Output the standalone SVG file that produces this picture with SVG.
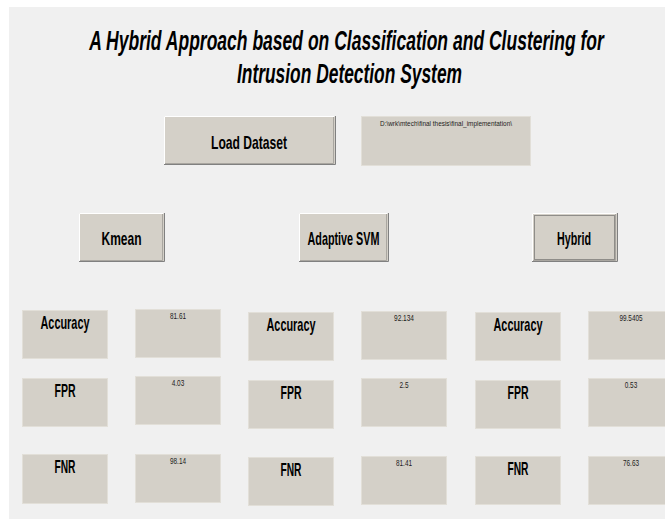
<svg xmlns="http://www.w3.org/2000/svg" width="665" height="519" viewBox="0 0 665 519">
  <style>
    .panel { fill: #f0f0f0; }
    .btn { fill: #d4d0c8; }
    .hi { stroke: #ffffff; stroke-width: 1; fill: none; }
    .lo { stroke: #808080; stroke-width: 1; fill: none; }
    .lo2 { stroke: #a9a6a0; stroke-width: 1; fill: none; }
    .box { fill: #d4d0c8; stroke: #e2dfd8; stroke-width: 1; }
    .focus { fill: none; stroke: #4a4a4a; stroke-width: 1; stroke-dasharray: 1 1; }
    .title { font-family: "Liberation Sans", Arial, sans-serif; font-weight: bold; font-style: italic; font-size: 28px; fill: #000; text-anchor: middle; }
    .lbl { font-family: "Liberation Sans", Arial, sans-serif; font-weight: bold; font-size: 19px; fill: #000; text-anchor: middle; }
    .val { font-family: "Liberation Sans", Arial, sans-serif; font-size: 9px; fill: #222; text-anchor: middle; }
    .path { font-family: "Liberation Sans", Arial, sans-serif; font-size: 8px; fill: #222; text-anchor: middle; }
  </style>

  <!-- window background -->
  <rect x="0" y="0" width="665" height="519" fill="#ffffff"/>
  <rect class="panel" x="9" y="7" width="656" height="512"/>

  <!-- heading, horizontally condensed -->
  <g id="title">
    <text class="title" transform="matrix(0.62 0 0 1 346.5 50)" x="0" y="0" textLength="830" lengthAdjust="spacingAndGlyphs">A Hybrid Approach based on Classification and Clustering for</text>
    <text class="title" transform="matrix(0.62 0 0 1 349.5 83)" x="0" y="0" textLength="363" lengthAdjust="spacingAndGlyphs">Intrusion Detection System</text>
  </g>

  <!-- push buttons -->
  <g id="btn-load">
    <rect class="btn" x="164" y="116" width="171" height="49"/>
    <path class="hi" d="M164.5 164.5V116.5H334.5"/>
    <path class="lo2" d="M165 163.5H333.5V117"/>
    <path class="lo" d="M164 164.5H335.5V116"/>
    <text class="lbl" x="249" y="149" textLength="76" lengthAdjust="spacingAndGlyphs">Load Dataset</text>
  </g>

  <g id="path-field">
    <rect class="box" x="361.5" y="116.5" width="169" height="49"/>
    <text class="path" x="446" y="126" textLength="132" lengthAdjust="spacingAndGlyphs">D:\wrk\mtech\final thesis\final_implementation\</text>
  </g>

  <g id="btn-kmean">
    <rect class="btn" x="79" y="213" width="85" height="49"/>
    <path class="hi" d="M79.5 261.5V213.5H163.5"/>
    <path class="lo2" d="M80 260.5H162.5V214"/>
    <path class="lo" d="M79 261.5H164.5V213"/>
    <text class="lbl" x="121.5" y="245" textLength="40" lengthAdjust="spacingAndGlyphs">Kmean</text>
  </g>

  <g id="btn-svm">
    <rect class="btn" x="299" y="213" width="89" height="49"/>
    <path class="hi" d="M299.5 261.5V213.5H387.5"/>
    <path class="lo2" d="M300 260.5H386.5V214"/>
    <path class="lo" d="M299 261.5H388.5V213"/>
    <text class="lbl" x="343.5" y="245" textLength="72" lengthAdjust="spacingAndGlyphs">Adaptive SVM</text>
  </g>

  <g id="btn-hybrid">
    <rect class="btn" x="532" y="213" width="85" height="49"/>
    <path class="hi" d="M532.5 261.5V213.5H616.5"/>
    <path class="lo2" d="M533 260.5H615.5V214"/>
    <path class="lo" d="M532 261.5H617.5V213"/>
    <rect class="focus" x="534.5" y="215.5" width="80" height="44"/>
    <text class="lbl" x="574" y="245" font-size="18" textLength="34" lengthAdjust="spacingAndGlyphs">Hybrid</text>
  </g>

  <!-- Kmean results -->
  <g id="kmean-acc">
    <rect class="box" x="22.5" y="310.5" width="85" height="48"/>
    <text class="lbl" x="65" y="329" textLength="49" lengthAdjust="spacingAndGlyphs">Accuracy</text>
  </g>
  <g id="kmean-acc-val">
    <rect class="box" x="135.5" y="309.5" width="85" height="48"/>
    <text class="val" x="178" y="319" textLength="16" lengthAdjust="spacingAndGlyphs">81.61</text>
  </g>
  <g id="kmean-fpr">
    <rect class="box" x="22.5" y="378.5" width="85" height="48"/>
    <text class="lbl" x="65" y="397" textLength="21" lengthAdjust="spacingAndGlyphs">FPR</text>
  </g>
  <g id="kmean-fpr-val">
    <rect class="box" x="135.5" y="376.5" width="85" height="48"/>
    <text class="val" x="178" y="386" textLength="12.5" lengthAdjust="spacingAndGlyphs">4.03</text>
  </g>
  <g id="kmean-fnr">
    <rect class="box" x="22.5" y="454.5" width="85" height="49"/>
    <text class="lbl" x="65" y="473" textLength="21" lengthAdjust="spacingAndGlyphs">FNR</text>
  </g>
  <g id="kmean-fnr-val">
    <rect class="box" x="135.5" y="454.5" width="85" height="48"/>
    <text class="val" x="178" y="464" textLength="16" lengthAdjust="spacingAndGlyphs">98.14</text>
  </g>

  <!-- Adaptive SVM results -->
  <g id="svm-acc">
    <rect class="box" x="248.5" y="312.5" width="85" height="48"/>
    <text class="lbl" x="291" y="331" textLength="49" lengthAdjust="spacingAndGlyphs">Accuracy</text>
  </g>
  <g id="svm-acc-val">
    <rect class="box" x="361.5" y="311.5" width="85" height="48"/>
    <text class="val" x="404" y="321" textLength="20" lengthAdjust="spacingAndGlyphs">92.134</text>
  </g>
  <g id="svm-fpr">
    <rect class="box" x="248.5" y="380.5" width="85" height="48"/>
    <text class="lbl" x="291" y="399" textLength="21" lengthAdjust="spacingAndGlyphs">FPR</text>
  </g>
  <g id="svm-fpr-val">
    <rect class="box" x="361.5" y="378.5" width="85" height="48"/>
    <text class="val" x="404" y="388" textLength="9" lengthAdjust="spacingAndGlyphs">2.5</text>
  </g>
  <g id="svm-fnr">
    <rect class="box" x="248.5" y="457.5" width="85" height="48"/>
    <text class="lbl" x="291" y="476" textLength="21" lengthAdjust="spacingAndGlyphs">FNR</text>
  </g>
  <g id="svm-fnr-val">
    <rect class="box" x="361.5" y="456.5" width="85" height="48"/>
    <text class="val" x="404" y="466" textLength="16" lengthAdjust="spacingAndGlyphs">81.41</text>
  </g>

  <!-- Hybrid results -->
  <g id="hybrid-acc">
    <rect class="box" x="475.5" y="312.5" width="85" height="48"/>
    <text class="lbl" x="518" y="331" textLength="49" lengthAdjust="spacingAndGlyphs">Accuracy</text>
  </g>
  <g id="hybrid-acc-val">
    <rect class="box" x="588.5" y="311.5" width="85" height="48"/>
    <text class="val" x="631" y="321" textLength="23" lengthAdjust="spacingAndGlyphs">99.5405</text>
  </g>
  <g id="hybrid-fpr">
    <rect class="box" x="475.5" y="380.5" width="85" height="48"/>
    <text class="lbl" x="518" y="399" textLength="21" lengthAdjust="spacingAndGlyphs">FPR</text>
  </g>
  <g id="hybrid-fpr-val">
    <rect class="box" x="588.5" y="378.5" width="85" height="48"/>
    <text class="val" x="631" y="388" textLength="12.5" lengthAdjust="spacingAndGlyphs">0.53</text>
  </g>
  <g id="hybrid-fnr">
    <rect class="box" x="475.5" y="456.5" width="85" height="48"/>
    <text class="lbl" x="518" y="475" textLength="21" lengthAdjust="spacingAndGlyphs">FNR</text>
  </g>
  <g id="hybrid-fnr-val">
    <rect class="box" x="588.5" y="456.5" width="85" height="48"/>
    <text class="val" x="631" y="466" textLength="16" lengthAdjust="spacingAndGlyphs">76.63</text>
  </g>
</svg>
